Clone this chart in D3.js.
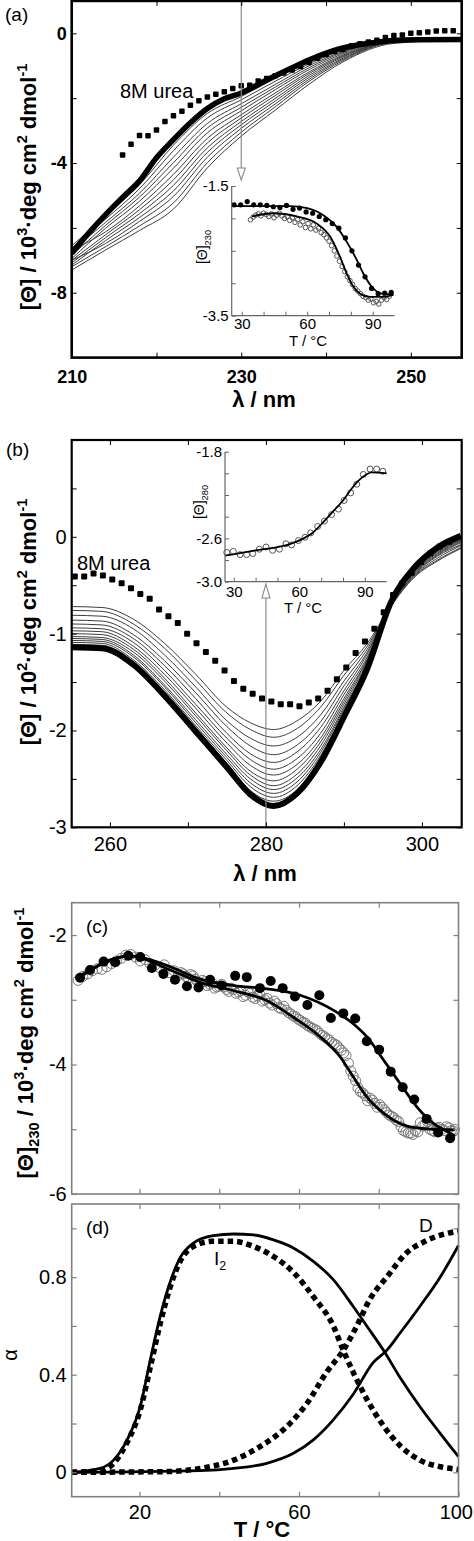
<!DOCTYPE html>
<html><head><meta charset="utf-8">
<script src="https://cdn.jsdelivr.net/npm/d3@7"></script>
<style>
body{margin:0;background:#fff;}
svg{display:block;}
</style></head><body>
<svg id="chart" width="474" height="1541"></svg>
<script>
// ---------------- DATA ----------------
// Panel (a): far-UV CD spectra
const nativeA_wl = [210,212,214,216,218,220,222,224,226,228,230,233,236,239,242,245,248,251,256];
const nativeA_val = [-6.78,-6.16,-5.59,-5.06,-4.55,-3.84,-3.28,-2.76,-2.32,-2.02,-1.84,-1.44,-1.06,-0.71,-0.45,-0.31,-0.22,-0.20,-0.19];
const thinA_wl = [210,214,218,222,226,230,234,238,242,248,256];
const thinA_1 = [-6.55,-5.64,-4.67,-3.45,-2.47,-1.95,-1.39,-0.88,-0.48,-0.23,-0.19];
const thinA_2 = [-6.62,-5.73,-4.79,-3.62,-2.61,-2.05,-1.48,-0.94,-0.52,-0.23,-0.19];
const thinA_3 = [-6.70,-5.83,-4.93,-3.82,-2.78,-2.17,-1.58,-1.00,-0.56,-0.24,-0.20];
const thinA_4 = [-6.85,-5.92,-5.05,-3.99,-2.92,-2.28,-1.66,-1.06,-0.59,-0.24,-0.20];
const thinA_5 = [-6.95,-6.01,-5.18,-4.16,-3.07,-2.39,-1.74,-1.12,-0.63,-0.25,-0.20];
const thinA_6 = [-6.68,-6.12,-5.32,-4.35,-3.24,-2.51,-1.84,-1.19,-0.67,-0.26,-0.20];
const thinA_7 = [-7.00,-6.21,-5.44,-4.52,-3.38,-2.61,-1.92,-1.24,-0.70,-0.26,-0.20];
const thinA_8 = [-7.08,-6.30,-5.56,-4.69,-3.53,-2.72,-2.01,-1.30,-0.73,-0.27,-0.20];
const thinA_9 = [-7.15,-6.39,-5.68,-4.86,-3.67,-2.82,-2.09,-1.36,-0.77,-0.27,-0.20];
const thinA_10 = [-7.00,-6.48,-5.80,-5.03,-3.82,-2.93,-2.18,-1.42,-0.80,-0.28,-0.21];
const thinA_11 = [-7.20,-6.58,-5.94,-5.23,-3.99,-3.05,-2.27,-1.48,-0.84,-0.28,-0.21];
const thinA_12 = [-7.30,-6.68,-6.08,-5.42,-4.15,-3.17,-2.37,-1.57,-0.88,-0.31,-0.21];
const thinA = [thinA_1,thinA_2,thinA_3,thinA_4,thinA_5,thinA_6,thinA_7,thinA_8,thinA_9,thinA_10,thinA_11,thinA_12];
const ureaA_wl = [216,217,218,219,220,221,222,223,224,225,226,227,228,229,230,231,232,233,234,235,236,237,238,239,240,241,242,243,244,245,246,247,248,249,250,251,252,253,254,255];
const ureaA_val = [-3.75,-3.42,-3.15,-3.16,-2.98,-2.72,-2.54,-2.40,-2.22,-2.08,-1.96,-1.88,-1.80,-1.70,-1.62,-1.60,-1.47,-1.39,-1.31,-1.22,-1.13,-1.02,-0.90,-0.77,-0.65,-0.56,-0.50,-0.38,-0.32,-0.27,-0.21,-0.13,-0.07,-0.05,0.00,0.02,0.04,0.07,0.08,0.08];
const ticksA_x = [210,220,230,240,250];
const labelsA_x = [210,230,250];
const ticksA_y = [0,-2,-4,-6,-8];
const labelsA_y = [0,-4,-8];

// Inset (a): [Θ]230 vs T
const filledAi_T = [26.5,29.5,32.5,35.5,38.5,41.5,44.5,47.5,50.5,53.5,56.5,59.5,62.5,65.5,68.5,71.5,74.5,77.5,80.5,83.5,86.5,89.5,92.5,95.5,98.5];
const filledAi_val = [-1.79,-1.79,-1.74,-1.79,-1.79,-1.80,-1.82,-1.83,-1.80,-1.86,-1.84,-1.90,-1.92,-1.97,-2.02,-2.08,-2.15,-2.30,-2.50,-2.72,-2.90,-3.08,-3.16,-3.15,-3.14];
const openAi_T = [34.0,35.2,36.4,37.6,38.8,40.0,41.2,42.4,43.6,44.8,46.0,47.2,48.4,49.6,50.8,52.0,53.2,54.4,55.6,56.8,58.0,59.2,60.4,61.6,62.8,64.0,65.2,66.4,67.6,68.8,70.0,71.2,72.4,73.6,74.8,76.0,77.2,78.4,79.6,80.8,82.0,83.2,84.4,85.6,86.8,88.0,89.2,90.4,91.6,92.8,94.0,95.2,96.4,97.6];
const openAi_val = [-2.02,-1.98,-1.95,-1.93,-1.96,-1.92,-1.94,-1.97,-1.93,-1.99,-1.95,-1.92,-1.96,-2.00,-1.97,-2.03,-1.99,-2.06,-2.02,-2.10,-2.05,-2.14,-2.08,-2.16,-2.10,-2.18,-2.15,-2.22,-2.25,-2.30,-2.35,-2.42,-2.50,-2.58,-2.66,-2.74,-2.82,-2.90,-2.96,-3.02,-3.08,-3.12,-3.16,-3.20,-3.22,-3.26,-3.24,-3.30,-3.28,-3.32,-3.26,-3.22,-3.25,-3.20];
const fitFilledAi_T = [25.4,40,52,60,67.4,73.5,78.1,82.7,85.7,89.5,94.1,99.5];
const fitFilledAi_val = [-1.81,-1.81,-1.81,-1.84,-1.95,-2.13,-2.36,-2.64,-2.85,-3.05,-3.16,-3.17];
const fitOpenAi_T = [34.6,44.5,55.2,64.4,70.5,75,78.1,81.1,84.2,88.8,94.9,99.5];
const fitOpenAi_val = [-1.97,-1.92,-1.97,-2.08,-2.28,-2.59,-2.85,-3.05,-3.16,-3.21,-3.21,-3.18];
const ticksAi_x = [30,40,50,60,70,80,90];
const labelsAi_x = [30,60,90];
const ticksAi_y = [-1.5,-2,-2.5,-3,-3.5];
const labelsAi_y = [-1.5,-3.5];

// Panel (b): near-UV CD spectra
const wlB = [255,259,263,267,271,275,278,281,284,287,290,293,296,299,302,305];
const nativeB = [-1.14,-1.15,-1.32,-1.64,-2.01,-2.38,-2.66,-2.78,-2.65,-2.33,-1.86,-1.36,-0.68,-0.32,-0.11,0.01];
const thinB_1 = [-0.72,-0.73,-0.85,-1.10,-1.42,-1.76,-1.92,-1.99,-1.90,-1.70,-1.38,-1.10,-0.72,-0.42,-0.25,-0.12];
const thinB_2 = [-0.76,-0.77,-0.90,-1.15,-1.48,-1.82,-1.99,-2.07,-1.98,-1.76,-1.43,-1.13,-0.72,-0.41,-0.24,-0.11];
const thinB_3 = [-0.81,-0.82,-0.95,-1.22,-1.55,-1.90,-2.08,-2.16,-2.07,-1.84,-1.49,-1.16,-0.71,-0.40,-0.22,-0.09];
const thinB_4 = [-0.86,-0.87,-1.01,-1.28,-1.61,-1.96,-2.16,-2.25,-2.15,-1.91,-1.54,-1.19,-0.71,-0.39,-0.20,-0.08];
const thinB_5 = [-0.90,-0.91,-1.05,-1.33,-1.67,-2.03,-2.24,-2.33,-2.22,-1.97,-1.59,-1.21,-0.70,-0.38,-0.19,-0.06];
const thinB_6 = [-0.94,-0.95,-1.09,-1.38,-1.73,-2.08,-2.30,-2.40,-2.29,-2.03,-1.63,-1.24,-0.70,-0.37,-0.18,-0.05];
const thinB_7 = [-0.97,-0.98,-1.13,-1.42,-1.77,-2.13,-2.36,-2.46,-2.35,-2.08,-1.67,-1.26,-0.70,-0.36,-0.17,-0.04];
const thinB_8 = [-1.00,-1.01,-1.16,-1.46,-1.82,-2.18,-2.42,-2.52,-2.40,-2.12,-1.70,-1.27,-0.69,-0.35,-0.16,-0.03];
const thinB_9 = [-1.03,-1.04,-1.19,-1.49,-1.85,-2.21,-2.46,-2.57,-2.45,-2.16,-1.73,-1.29,-0.69,-0.35,-0.15,-0.03];
const thinB_10 = [-1.05,-1.06,-1.22,-1.53,-1.89,-2.25,-2.50,-2.61,-2.49,-2.20,-1.76,-1.31,-0.69,-0.34,-0.14,-0.02];
const thinB_11 = [-1.07,-1.08,-1.24,-1.55,-1.92,-2.28,-2.54,-2.65,-2.53,-2.23,-1.78,-1.32,-0.69,-0.34,-0.13,-0.01];
const thinB_12 = [-1.09,-1.10,-1.27,-1.58,-1.95,-2.31,-2.58,-2.69,-2.57,-2.26,-1.81,-1.33,-0.68,-0.33,-0.13,0.00];
const thinB_13 = [-1.11,-1.12,-1.29,-1.61,-1.97,-2.34,-2.62,-2.73,-2.61,-2.29,-1.83,-1.34,-0.68,-0.33,-0.12,0.00];
const thinB = [thinB_1,thinB_2,thinB_3,thinB_4,thinB_5,thinB_6,thinB_7,thinB_8,thinB_9,thinB_10,thinB_11,thinB_12,thinB_13];
const ureaB_wl = [255.5,256.7,257.9,259.1,260.3,261.5,262.7,263.9,265.1,266.3,267.5,268.7,269.9,271.1,272.3,273.5,274.7,275.9,277.1,278.3,279.5,280.7,281.9,283.1,284.3,285.5,286.7,287.9,289.1,290.3,291.5,292.7,293.9,295.1,296.3,297.5,298.7,299.9,301.1,302.3,303.5];
const ureaB_val = [-0.41,-0.41,-0.38,-0.40,-0.44,-0.48,-0.53,-0.59,-0.64,-0.75,-0.82,-0.89,-1.00,-1.10,-1.19,-1.28,-1.38,-1.49,-1.57,-1.62,-1.67,-1.70,-1.73,-1.73,-1.75,-1.71,-1.67,-1.59,-1.47,-1.35,-1.20,-1.08,-0.95,-0.78,-0.60,-0.48,-0.37,-0.26,-0.17,-0.10,-0.05];
const ticksB_x = [260,270,280,290,300];
const labelsB_x = [260,280,300];
const ticksB_y = [1,0.5,0,-0.5,-1,-1.5,-2,-2.5,-3];
const labelsB_y = [0,-1,-2,-3];

// Inset (b): [Θ]280 vs T
const openBi_T = [26.8,29.8,32.9,35.9,38.7,41.7,44.8,47.8,50.9,53.9,56.5,59.6,62.6,65.2,68.4,71.5,74.8,77.9,80.5,83.5,86.3,89.3,92.4,95.4,98.2];
const openBi_val = [-2.73,-2.72,-2.75,-2.75,-2.74,-2.70,-2.68,-2.71,-2.70,-2.65,-2.66,-2.62,-2.59,-2.55,-2.49,-2.44,-2.38,-2.33,-2.25,-2.18,-2.10,-2.01,-1.96,-1.96,-1.98];
const fitBi_T = [26,40,50,56,62,66,71,76,80,84,87,90,93,100];
const fitBi_val = [-2.76,-2.71,-2.68,-2.65,-2.60,-2.55,-2.45,-2.34,-2.25,-2.14,-2.07,-2.02,-1.99,-2.00];
const ticksBi_x = [30,40,50,60,70,80,90];
const labelsBi_x = [30,60,90];
const ticksBi_y = [-1.8,-2.0,-2.2,-2.4,-2.6,-2.8,-3.0];
const labelsBi_y = [-1.8,-2.6,-3.0];

// Panel (c): [Θ]230 vs T
const filledC_T = [5.1,7.6,11.0,13.9,17.2,20.2,23.1,26.0,28.9,31.9,34.8,37.7,40.6,44.0,46.9,50.2,52.9,55.9,59.0,62.1,65.1,68.0,71.1,74.1,77.0,80.1,83.0,86.0,88.9,92.0,94.9,97.9];
const filledC_val = [-2.66,-2.54,-2.41,-2.42,-2.32,-2.34,-2.51,-2.60,-2.69,-2.79,-2.81,-2.69,-2.78,-2.63,-2.65,-2.82,-2.71,-2.82,-2.95,-3.08,-2.93,-3.28,-3.21,-3.29,-3.64,-3.77,-4.11,-4.35,-4.54,-4.84,-5.05,-5.14];
const openC_T = [4.6,5.8,7.0,8.2,9.4,10.6,11.8,13.0,14.2,15.4,16.6,17.8,19.0,20.2,21.4,22.6,23.8,25.0,26.2,27.4,28.6,29.8,31.0,32.2,33.4,34.6,35.8,37.0,38.2,39.4,40.6,41.8,43.0,44.2,45.4,46.6,47.8,49.0,50.2,51.4,52.6,53.8,55.0,56.2,57.4,58.6,59.8,61.0,62.2,63.4,64.6,65.8,67.0,68.2,69.4,70.6,71.8,73.0,74.2,75.4,76.6,77.8,79.0,80.2,81.4,82.6,83.8,85.0,86.2,87.4,88.6,89.8,91.0,92.2,93.4,94.6,95.8,97.0,98.2,99.0];
const openC_val = [-2.70,-2.64,-2.60,-2.55,-2.52,-2.53,-2.49,-2.44,-2.40,-2.36,-2.31,-2.30,-2.34,-2.40,-2.38,-2.44,-2.47,-2.50,-2.46,-2.58,-2.55,-2.62,-2.60,-2.66,-2.63,-2.72,-2.70,-2.78,-2.74,-2.80,-2.76,-2.84,-2.82,-2.90,-2.86,-2.93,-2.90,-2.98,-2.92,-3.00,-3.05,-3.02,-3.12,-3.10,-3.20,-3.25,-3.30,-3.35,-3.40,-3.44,-3.48,-3.55,-3.60,-3.66,-3.70,-3.78,-3.86,-4.10,-4.25,-4.42,-4.48,-4.52,-4.60,-4.62,-4.70,-4.78,-4.82,-4.88,-5.02,-5.06,-5.08,-5.04,-4.95,-4.88,-5.02,-4.98,-5.00,-4.96,-5.02,-5.00];
const openC2_T = [30.4,31.6,32.8,34.0,35.2,36.4,37.6,38.8,40.0,41.2,42.4,43.6,44.8,46.0,47.2,48.4,49.6,50.8,52.0,53.2,54.4,55.6,56.8,58.0,59.2,60.4,61.6,62.8,64.0,65.2,66.4,67.6,68.8,70.0,71.2,72.4,73.6,74.8,76.0,77.2,78.4,79.6,80.8,82.0,83.2,84.4,85.6,86.8,88.0,89.2,90.4,91.6,92.8,94.0,95.2,96.4,97.6,98.8];
const openC2_val = [-2.58,-2.64,-2.61,-2.68,-2.75,-2.72,-2.76,-2.82,-2.79,-2.80,-2.87,-2.84,-2.88,-2.95,-2.88,-2.96,-2.94,-3.02,-2.98,-3.08,-3.06,-3.14,-3.16,-3.22,-3.26,-3.32,-3.36,-3.42,-3.46,-3.52,-3.57,-3.62,-3.68,-3.74,-3.82,-3.98,-4.18,-4.36,-4.44,-4.56,-4.55,-4.66,-4.66,-4.74,-4.80,-4.86,-4.96,-5.04,-5.06,-5.02,-4.90,-4.92,-5.00,-5.04,-4.97,-5.02,-4.98,-5.03];
const fitFilledC_T = [4.3,17.7,26.9,35.2,43.6,51.9,60.3,68.6,73.6,77.0,81.2,85.3,89.5,93.7,97.9,99.1];
const fitFilledC_val = [-2.66,-2.32,-2.47,-2.68,-2.78,-2.83,-2.93,-3.16,-3.37,-3.57,-3.93,-4.29,-4.65,-4.91,-5.06,-5.11];
const fitOpenC_T = [4.3,17.7,26.9,35.2,43.6,51.9,58.6,65.3,70.3,73.6,77.0,81.2,85.3,89.5,93.7,99.1];
const fitOpenC_val = [-2.68,-2.32,-2.52,-2.73,-2.86,-3.01,-3.27,-3.57,-3.88,-4.19,-4.50,-4.75,-4.91,-4.98,-5.00,-5.01];
const ticksC_x = [20,40,60,80];
const ticksC_y = [-2,-3,-4,-5,-6];
const labelsC_y = [-2,-4,-6];

// Panel (d): fractions α vs T
const I2solid_T = [3,10.1,13.5,16.8,20.2,22.7,25.2,27.7,30.2,33.5,38.5,43.6,48.6,53.6,58.6,63.6,68.6,73.6,77,81.2,85.3,90.3,95.4,100];
const I2solid_a = [0,0.016,0.05,0.13,0.27,0.46,0.64,0.78,0.88,0.94,0.97,0.977,0.973,0.953,0.92,0.865,0.79,0.68,0.60,0.50,0.39,0.27,0.16,0.064];
const I2dash_T = [3,10.1,13.5,16.8,20.2,22.7,25.2,27.7,30.2,33.5,38.5,43.6,48.6,53.6,58.6,63.6,68.6,71.1,73.6,77,81.2,85.3,90.3,95.4,100];
const I2dash_a = [0,0.007,0.037,0.12,0.256,0.43,0.61,0.76,0.865,0.926,0.947,0.947,0.926,0.885,0.82,0.72,0.60,0.50,0.41,0.30,0.19,0.11,0.05,0.023,0.012];
const Dsolid_T = [3,35.2,43.6,51.9,58.6,63.6,68.6,73.6,78.6,82.0,85.3,90.3,95.4,100];
const Dsolid_a = [0,0.007,0.016,0.037,0.078,0.133,0.215,0.32,0.45,0.50,0.57,0.68,0.80,0.93];
const Ddash_T = [3,26.9,35.2,43.6,50.2,56.9,61.9,66.9,71.1,74.5,77.8,82.0,87.0,92.0,100];
const Ddash_a = [0,0.003,0.016,0.05,0.105,0.187,0.28,0.41,0.50,0.60,0.71,0.80,0.90,0.95,0.99];
const ticksD_x = [20,40,60,80,100];
const labelsD_x = [20,60,100];
const ticksD_y = [0,0.2,0.4,0.6,0.8,1.0];
const labelsD_y = [0,0.4,0.8];

// ---------------- DRAWING ----------------
const FONT = '"Liberation Sans", Arial, Helvetica, sans-serif';
const svg = d3.select("#chart").attr("font-family", FONT);

function axes(g, x, y, o) {
  const [xl, xr] = x.range(); const [yb, yt] = y.range();
  const fx = d => o.xLabels.includes(d) ? o.xFmt(d) : "";
  const fy = d => o.yLabels.includes(d) ? o.yFmt(d) : "";
  const style = sel => {
    sel.select(".domain").remove();
    sel.selectAll(".tick line").attr("stroke", o.color).attr("stroke-width", o.tickW);
    sel.selectAll(".tick text").attr("fill", "#000").attr("font-size", o.fs)
      .attr("font-weight", o.fw).attr("font-family", FONT);
  };
  const bottom = g.append("g").attr("transform", `translate(0,${yb})`)
    .call(d3.axisBottom(x).tickValues(o.xTicks).tickSizeInner(-o.tl).tickSizeOuter(0).tickPadding(o.xPad).tickFormat(fx)).call(style);
  g.append("g").attr("transform", `translate(${xl},0)`)
    .call(d3.axisLeft(y).tickValues(o.yTicks).tickSizeInner(-o.tl).tickSizeOuter(0).tickPadding(o.yPad).tickFormat(fy)).call(style);
  if (o.box) {
    g.append("g").attr("transform", `translate(0,${yt})`)
      .call(d3.axisTop(x).tickValues(o.xTicks).tickSizeInner(-o.tl).tickSizeOuter(0).tickFormat("")).call(style);
    g.append("g").attr("transform", `translate(${xr},0)`)
      .call(d3.axisRight(y).tickValues(o.yTicks).tickSizeInner(-o.tl).tickSizeOuter(0).tickFormat("")).call(style);
    g.append("rect").attr("x", xl).attr("y", yt).attr("width", xr - xl).attr("height", yb - yt)
      .attr("fill", "none").attr("stroke", o.color).attr("stroke-width", o.frameW);
  } else {
    g.append("line").attr("x1", xl).attr("x2", xr).attr("y1", yb).attr("y2", yb)
      .attr("stroke", o.color).attr("stroke-width", o.frameW);
    g.append("line").attr("x1", xl).attr("x2", xl).attr("y1", yb).attr("y2", yt)
      .attr("stroke", o.color).attr("stroke-width", o.frameW);
  }
  return bottom;
}

function rich(g, parts, fs, attrs) {
  const t = g.append("text").attr("font-size", fs);
  Object.entries(attrs).forEach(([k, v]) => t.attr(k, v));
  let shift = 0;
  parts.forEach(([s, k]) => {
    const target = k === "sup" ? -0.42 * fs : k === "sub" ? 0.28 * fs : 0;
    t.append("tspan").attr("dy", target - shift).attr("font-size", k ? fs * 0.66 : fs).text(s);
    shift = target;
  });
  return t;
}

function linePath(g, x, y, xs, ys, attrs, curve) {
  const data = xs.map((v, i) => [v, ys[i]]);
  const p = g.append("path").datum(data)
    .attr("d", d3.line().x(d => x(d[0])).y(d => y(d[1])).curve(curve || d3.curveMonotoneX))
    .attr("fill", "none");
  Object.entries(attrs).forEach(([k, v]) => p.attr(k, v));
  return p;
}

function squares(g, x, y, xs, ys, s) {
  g.selectAll(null).data(xs.map((v, i) => [v, ys[i]])).enter().append("rect")
    .attr("x", d => x(d[0]) - s / 2).attr("y", d => y(d[1]) - s / 2)
    .attr("width", s).attr("height", s).attr("rx", 1).attr("fill", "#000");
}

function dots(g, x, y, xs, ys, r, filled, stroke) {
  g.selectAll(null).data(xs.map((v, i) => [v, ys[i]])).enter().append("circle")
    .attr("cx", d => x(d[0])).attr("cy", d => y(d[1])).attr("r", r)
    .attr("fill", filled ? "#000" : "none")
    .attr("stroke", filled ? "none" : stroke).attr("stroke-width", 1);
}

const fmtInt = d => String(d);

// ===== Panel (a) =====
{
  const x = d3.scaleLinear([210, 256], [71.7, 461.7]);
  const y = d3.scaleLinear([-10, 1], [357.6, 0.9]);
  const g = svg.append("g");
  g.append("clipPath").attr("id", "clipA").append("rect")
    .attr("x", 71.7).attr("y", 0.9).attr("width", 390).attr("height", 356.7);
  const pg = g.append("g").attr("clip-path", "url(#clipA)");
  thinA.forEach(vals => linePath(pg, x, y, thinA_wl, vals, {stroke: "#3c3c3c", "stroke-width": 1}));
  linePath(pg, x, y, nativeA_wl, nativeA_val, {stroke: "#000", "stroke-width": 5.5, "stroke-linejoin": "round"});
  squares(pg, x, y, ureaA_wl, ureaA_val, 5.5);
  // arrow at 230 nm
  g.append("line").attr("x1", x(230)).attr("x2", x(230)).attr("y1", 1).attr("y2", 170)
    .attr("stroke", "#8a8a8a").attr("stroke-width", 1.2);
  g.append("path").attr("d", `M${x(230) - 4},168 L${x(230)},180 L${x(230) + 4},168 Z`)
    .attr("fill", "#fff").attr("stroke", "#8a8a8a").attr("stroke-width", 1.1);
  axes(g, x, y, {xTicks: ticksA_x, xLabels: labelsA_x, yTicks: ticksA_y, yLabels: labelsA_y,
    xFmt: fmtInt, yFmt: fmtInt, color: "#000", tickW: 1, tl: 5, xPad: 13, yPad: 5,
    fs: 18, fw: "bold", box: true, frameW: 2.6});
  g.append("text").attr("x", 5).attr("y", 21).attr("font-size", 19).text("(a)");
  g.append("text").attr("x", 120).attr("y", 98).attr("font-size", 20).text("8M urea");
  g.append("text").attr("x", 264).attr("y", 407).attr("text-anchor", "middle")
    .attr("font-size", 22).attr("font-weight", "bold").text("λ / nm");
  rich(g, [["[Θ] / 10", ""], ["3", "sup"], ["·deg cm", ""], ["2", "sup"], [" dmol", ""], ["-1", "sup"]], 22,
    {"transform": "translate(36,187) rotate(-90)", "text-anchor": "middle", "font-weight": "bold"});

  // inset
  const xi = d3.scaleLinear([25.4, 100], [231.7, 394.5]);
  const yi = d3.scaleLinear([-3.5, -1.5], [315.7, 186]);
  const gi = g.append("g");
  dots(gi, xi, yi, openAi_T, openAi_val, 2.3, false, "#555");
  dots(gi, xi, yi, filledAi_T, filledAi_val, 2.6, true);
  linePath(gi, xi, yi, fitFilledAi_T, fitFilledAi_val, {stroke: "#000", "stroke-width": 1.8});
  linePath(gi, xi, yi, fitOpenAi_T, fitOpenAi_val, {stroke: "#000", "stroke-width": 1.8});
  axes(gi, xi, yi, {xTicks: ticksAi_x, xLabels: labelsAi_x, yTicks: ticksAi_y, yLabels: labelsAi_y,
    xFmt: fmtInt, yFmt: d => d.toFixed(1), color: "#666", tickW: 1, tl: 4, xPad: 3, yPad: 3,
    fs: 15, fw: "normal", box: false, frameW: 1.2});
  gi.append("text").attr("x", 308).attr("y", 346).attr("text-anchor", "middle").attr("font-size", 15).text("T / °C");
  rich(gi, [["[Θ]", ""], ["230", "sub"]], 14,
    {"transform": "translate(207,247) rotate(-90)", "text-anchor": "middle"});
}

// ===== Panel (b) =====
{
  const x = d3.scaleLinear([255.1, 305.1], [71.7, 461.7]);
  const y = d3.scaleLinear([-3, 1], [827.3, 440]);
  const g = svg.append("g");
  g.append("clipPath").attr("id", "clipB").append("rect")
    .attr("x", 71.7).attr("y", 440).attr("width", 390).attr("height", 387.3);
  const pg = g.append("g").attr("clip-path", "url(#clipB)");
  thinB.forEach(vals => linePath(pg, x, y, wlB, vals, {stroke: "#3c3c3c", "stroke-width": 1}));
  linePath(pg, x, y, wlB, nativeB, {stroke: "#000", "stroke-width": 6, "stroke-linejoin": "round"});
  squares(pg, x, y, ureaB_wl, ureaB_val, 6);
  // arrow at 280 nm
  g.append("line").attr("x1", x(280)).attr("x2", x(280)).attr("y1", 827).attr("y2", 597)
    .attr("stroke", "#8a8a8a").attr("stroke-width", 1.2);
  g.append("path").attr("d", `M${x(280) - 4},598 L${x(280)},584 L${x(280) + 4},598 Z`)
    .attr("fill", "#fff").attr("stroke", "#8a8a8a").attr("stroke-width", 1.1);
  axes(g, x, y, {xTicks: ticksB_x, xLabels: labelsB_x, yTicks: ticksB_y, yLabels: labelsB_y,
    xFmt: fmtInt, yFmt: fmtInt, color: "#000", tickW: 1, tl: 5, xPad: 10, yPad: 5,
    fs: 20, fw: "normal", box: true, frameW: 2.2});
  g.append("text").attr("x", 6).attr("y", 456).attr("font-size", 19).text("(b)");
  g.append("text").attr("x", 77).attr("y", 570).attr("font-size", 20).text("8M urea");
  g.append("text").attr("x", 265).attr("y", 881).attr("text-anchor", "middle")
    .attr("font-size", 22).attr("font-weight", "bold").text("λ / nm");
  rich(g, [["[Θ] / 10", ""], ["2", "sup"], ["·deg cm", ""], ["2", "sup"], [" dmol", ""], ["-1", "sup"]], 22,
    {"transform": "translate(36,622) rotate(-90)", "text-anchor": "middle", "font-weight": "bold"});

  // inset
  const xi = d3.scaleLinear([26, 100], [225, 386.7]);
  const yi = d3.scaleLinear([-3, -1.8], [581.7, 451.7]);
  const gi = g.append("g");
  dots(gi, xi, yi, openBi_T, openBi_val, 3, false, "#555");
  linePath(gi, xi, yi, fitBi_T, fitBi_val, {stroke: "#000", "stroke-width": 1.8});
  axes(gi, xi, yi, {xTicks: ticksBi_x, xLabels: labelsBi_x, yTicks: ticksBi_y, yLabels: labelsBi_y,
    xFmt: fmtInt, yFmt: d => d.toFixed(1), color: "#666", tickW: 1, tl: 4, xPad: 5, yPad: 3,
    fs: 15, fw: "normal", box: false, frameW: 1.2});
  gi.append("text").attr("x", 303).attr("y", 613).attr("text-anchor", "middle").attr("font-size", 15).text("T / °C");
  rich(gi, [["[Θ]", ""], ["280", "sub"]], 14,
    {"transform": "translate(204,502) rotate(-90)", "text-anchor": "middle"});
}

// ===== Panel (c) =====
{
  const x = d3.scaleLinear([3, 100], [71.7, 458.5]);
  const y = d3.scaleLinear([-6, -1.5], [1194, 902.7]);
  const g = svg.append("g");
  dots(g, x, y, openC_T, openC_val, 5, false, "#777");
  dots(g, x, y, openC2_T, openC2_val, 5, false, "#777");
  dots(g, x, y, filledC_T, filledC_val, 5, true);
  linePath(g, x, y, fitFilledC_T, fitFilledC_val, {stroke: "#000", "stroke-width": 2.8});
  linePath(g, x, y, fitOpenC_T, fitOpenC_val, {stroke: "#000", "stroke-width": 2.8});
  axes(g, x, y, {xTicks: ticksC_x, xLabels: [], yTicks: ticksC_y, yLabels: labelsC_y,
    xFmt: fmtInt, yFmt: fmtInt, color: "#808080", tickW: 1.2, tl: 5, xPad: 8, yPad: 5,
    fs: 20, fw: "normal", box: true, frameW: 1.6});
  g.append("text").attr("x", 86).attr("y", 933).attr("font-size", 19).text("(c)");
  rich(g, [["[Θ]", ""], ["230", "sub"], [" / 10", ""], ["3", "sup"], ["·deg cm", ""], ["2", "sup"], [" dmol", ""], ["-1", "sup"]], 22,
    {"transform": "translate(33,1043) rotate(-90)", "text-anchor": "middle", "font-weight": "bold"});
}

// ===== Panel (d) =====
{
  const x = d3.scaleLinear([3, 100], [71.7, 458.5]);
  const y = d3.scaleLinear([-0.1, 1.1], [1496.7, 1204]);
  const g = svg.append("g");
  const dash = {stroke: "#000", "stroke-width": 5.5, "stroke-dasharray": "5.5,4"};
  linePath(g, x, y, I2dash_T, I2dash_a, dash);
  linePath(g, x, y, Ddash_T, Ddash_a, dash);
  linePath(g, x, y, I2solid_T, I2solid_a, {stroke: "#000", "stroke-width": 2.8});
  linePath(g, x, y, Dsolid_T, Dsolid_a, {stroke: "#000", "stroke-width": 2.8});
  const bottom = axes(g, x, y, {xTicks: ticksD_x, xLabels: labelsD_x, yTicks: ticksD_y, yLabels: labelsD_y,
    xFmt: fmtInt, yFmt: d => String(d), color: "#808080", tickW: 1.2, tl: 5, xPad: 8, yPad: 5,
    fs: 20, fw: "normal", box: true, frameW: 1.6});
  bottom.selectAll(".tick text").filter(d => d === 100).attr("text-anchor", "end").attr("x", 14);
  g.append("text").attr("x", 86).attr("y", 1234).attr("font-size", 19).text("(d)");
  g.append("text").attr("x", 419).attr("y", 1232).attr("font-size", 19).text("D");
  rich(g, [["I", ""], ["2", "sub"]], 19, {"x": 214, "y": 1265});
  g.append("text").attr("transform", "translate(17,1355) rotate(-90)").attr("text-anchor", "middle")
    .attr("font-size", 20).text("α");
  g.append("text").attr("x", 262).attr("y", 1537).attr("text-anchor", "middle")
    .attr("font-size", 22).attr("font-weight", "bold").text("T / °C");
}
</script></body></html>
